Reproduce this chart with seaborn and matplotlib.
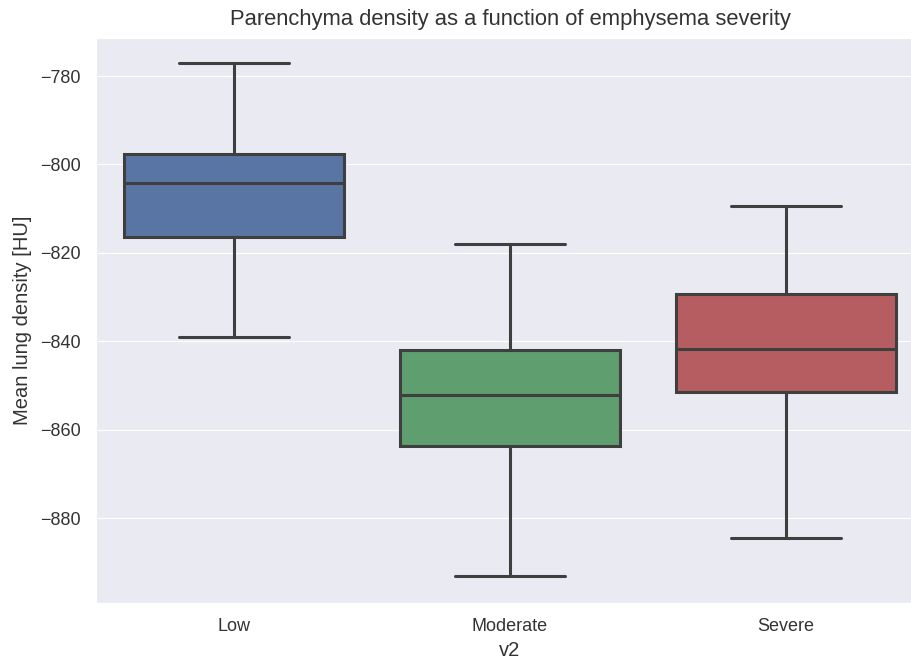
import numpy as np
import pandas as pd
import matplotlib
matplotlib.use("Agg")
import matplotlib.pyplot as plt
import seaborn as sns

# Box summaries per severity group: min, Q1, median, Q3, max
categories = ["Low", "Moderate", "Severe"]
low_vals = [-839.1, -816.5, -804.3, -797.7, -777.1]
moderate_vals = [-893.1, -863.6, -852.1, -842.0, -818.0]
severe_vals = [-884.5, -851.4, -841.8, -829.3, -809.3]
colors = ["#4C72B0", "#55A868", "#C44E52"]

df = pd.DataFrame({
    "v2": np.repeat(categories, 5),
    "density": low_vals + moderate_vals + severe_vals,
})

sns.set_style("darkgrid", {"grid.linewidth": 1.6})
plt.rcParams["font.family"] = ["Liberation Sans", "DejaVu Sans"]

fig = plt.figure(figsize=(9.11, 6.58), dpi=100)
ax = fig.add_axes([96 / 911, 1 - 603 / 658, 828 / 911, 565 / 658])

sns.boxplot(data=df, x="v2", y="density", hue="v2", palette=colors,
            order=categories, whis=(0, 100), width=0.8, saturation=0.75,
            linewidth=2.2, linecolor="#3f3f3f", legend=False, ax=ax)

ax.set_ylim(-899.2, -771.4)
ax.set_yticks([-780, -800, -820, -840, -860, -880])
ax.set_xlim(-0.5, 2.5)
ax.tick_params(axis="both", labelsize=13, colors="#333333", length=0, pad=11)
ax.set_xlabel("v2", fontsize=14.5, color="#333333", labelpad=4)
ax.set_ylabel("Mean lung density [HU]", fontsize=14.5, color="#333333",
              labelpad=6)
ax.set_title("Parenchyma density as a function of emphysema severity",
             fontsize=15.8, color="#333333", pad=9)

fig.savefig("out.png", dpi=100)
